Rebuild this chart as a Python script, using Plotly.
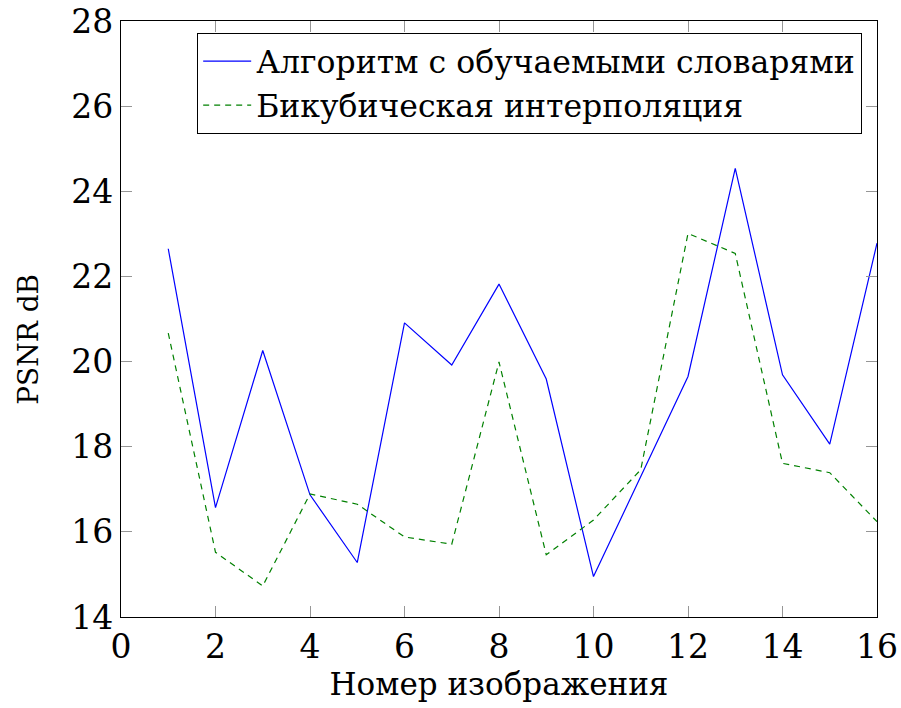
import plotly.graph_objects as go

# image numbers
image_no = list(range(1, 17))

# PSNR values, dB
psnr_dict = [22.65, 16.57, 20.26, 16.87, 15.28, 20.91, 19.92, 21.82,
             19.59, 14.95, 17.30, 19.65, 24.54, 19.69, 18.06, 22.78]
psnr_bicubic = [20.67, 15.52, 14.73, 16.89, 16.65, 15.88, 15.71, 19.99,
                15.46, 16.28, 17.46, 23.01, 22.54, 17.61, 17.39, 16.24]

name_dict = "Алгоритм с обучаемыми словарями"
name_bicubic = "Бикубическая интерполяция"

x_ticks = [0, 2, 4, 6, 8, 10, 12, 14, 16]
y_ticks = [14, 16, 18, 20, 22, 24, 26, 28]

fig = go.Figure()
fig.add_trace(go.Scatter(x=image_no, y=psnr_dict, mode="lines", name=name_dict,
                         line=dict(color="rgb(0,0,255)", width=1.2)))
fig.add_trace(go.Scatter(x=image_no, y=psnr_bicubic, mode="lines", name=name_bicubic,
                         line=dict(color="rgb(0,128,0)", width=1.2, dash="6px,5px")))

axis_common = dict(
    showgrid=False, zeroline=False, automargin=False,
    showline=True, linecolor="black", linewidth=1.3, mirror="ticks",
    ticks="inside", ticklen=11, tickcolor="rgb(150,150,150)", tickwidth=1,
    tickfont=dict(size=33, color="black"),
)

fig.update_layout(
    width=901, height=708,
    margin=dict(l=121, r=24, t=21, b=91),
    paper_bgcolor="white", plot_bgcolor="white",
    font=dict(family="DejaVu Serif", color="black"),
    showlegend=True,
    legend=dict(
        x=0.98, y=0.98, xanchor="right", yanchor="top",
        bgcolor="white", bordercolor="black", borderwidth=1.3,
        font=dict(size=31.5), itemwidth=48, tracegroupgap=0,
    ),
    xaxis=dict(axis_common, range=[0, 16], tickvals=x_ticks,
               title=dict(text="Номер изображения", font=dict(size=31), standoff=4)),
    yaxis=dict(axis_common, range=[14, 28], tickvals=y_ticks),
)

# y title as annotation so it can sit slightly below the centre, like the original
fig.add_annotation(text="PSNR dB", textangle=-90, showarrow=False,
                   xref="paper", yref="paper", x=0, y=0.465,
                   xanchor="center", yanchor="middle", xshift=-92,
                   font=dict(size=28))

# drop the default page margin so the figure fills the window
fig.write_html("out.html", config={"displayModeBar": False},
               post_script="document.body.style.margin='0';")
